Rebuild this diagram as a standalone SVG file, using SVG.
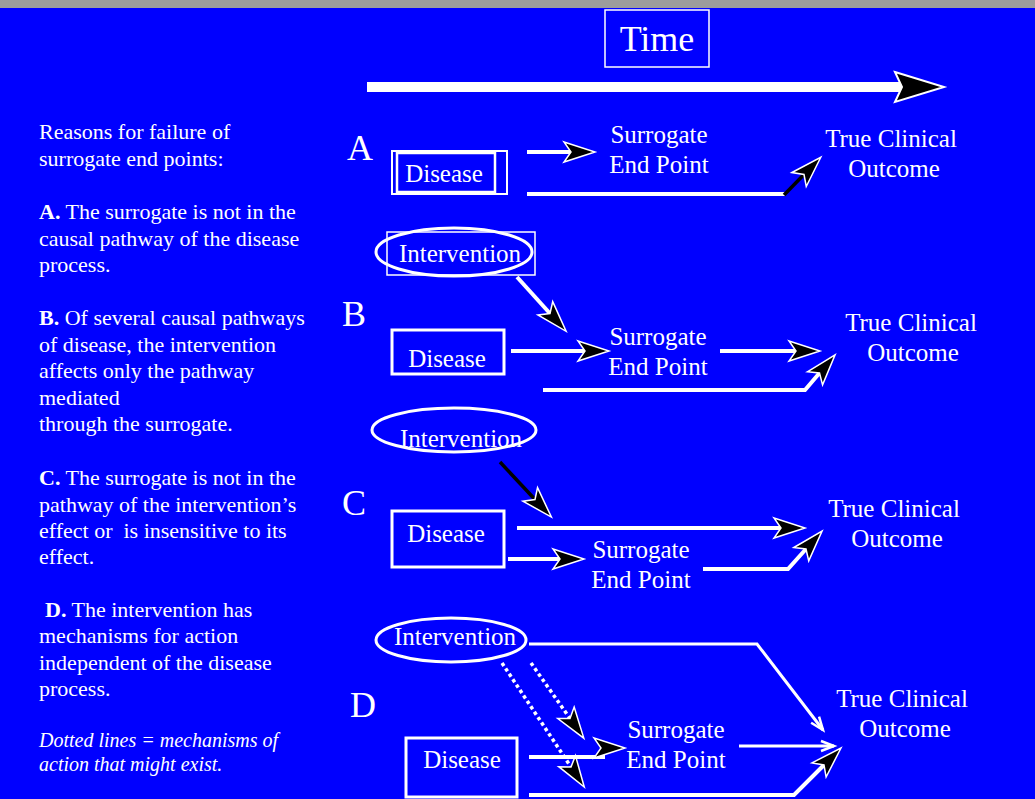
<svg xmlns="http://www.w3.org/2000/svg" width="1035" height="799" viewBox="0 0 1035 799">
<style>
text{font-family:"Liberation Serif","Times New Roman",serif;fill:#fff}
.t{font-size:25px;text-anchor:middle}
.big{font-size:36px}
.side{font-size:22px}
.it{font-size:20px;font-style:italic}
.box{fill:none;stroke:#fff;stroke-width:3}
.thin{fill:none;stroke:#fff;stroke-width:1.5}
.ell{fill:none;stroke:#fff;stroke-width:3}
.w{fill:none;stroke:#fff;stroke-width:4;marker-end:url(#ah)}
.wn{fill:none;stroke:#fff;stroke-width:4}
.k{fill:none;stroke:#000;stroke-width:3.5;marker-end:url(#ah)}
.dot{fill:none;stroke:#fff;stroke-width:3.5;stroke-dasharray:3.5 3;marker-end:url(#ah)}
.wo{fill:none;stroke:#fff;stroke-width:3;marker-end:url(#open)}
</style>
<defs>
<marker id="ah" markerUnits="userSpaceOnUse" viewBox="-2 -13 35 26" markerWidth="35" markerHeight="26" refX="7" refY="0" orient="auto" overflow="visible">
<path d="M0,-10 L31,0 L0,10 L7,0 Z" fill="#000" stroke="#fff" stroke-width="1.5"/>
</marker>
<marker id="ahBig" markerUnits="userSpaceOnUse" viewBox="-2 -17 53 34" markerWidth="53" markerHeight="34" refX="7" refY="0" orient="auto" overflow="visible">
<path d="M0,-15 L49,0 L0,15 L7,0 Z" fill="#000" stroke="#fff" stroke-width="2"/>
</marker>
<marker id="open" markerUnits="userSpaceOnUse" viewBox="-14 -7 16 14" markerWidth="16" markerHeight="14" refX="0" refY="0" orient="auto" overflow="visible">
<path d="M-13,-5 L0,0 L-13,5" fill="none" stroke="#fff" stroke-width="2.5"/>
</marker>
</defs>
<rect x="0" y="0" width="1035" height="799" fill="#0000FF"/>
<rect x="0" y="0" width="1035" height="8" fill="#9C9C9C"/>

<g id="legend">
<text class="side" x="39" y="139">Reasons for failure of</text>
<text class="side" x="39" y="166">surrogate end points:</text>
<text class="side" x="39" y="219"><tspan font-weight="bold">A.</tspan> The surrogate is not in the</text>
<text class="side" x="39" y="246">causal pathway of the disease</text>
<text class="side" x="39" y="272">process.</text>
<text class="side" x="39" y="325"><tspan font-weight="bold">B.</tspan> Of several causal pathways</text>
<text class="side" x="39" y="352">of disease, the intervention</text>
<text class="side" x="39" y="378">affects only the pathway</text>
<text class="side" x="39" y="405">mediated</text>
<text class="side" x="39" y="431">through the surrogate.</text>
<text class="side" x="39" y="485"><tspan font-weight="bold">C.</tspan> The surrogate is not in the</text>
<text class="side" x="39" y="512">pathway of the intervention’s</text>
<text class="side" x="39" y="538" style="white-space:pre">effect or  is insensitive to its</text>
<text class="side" x="39" y="564">effect.</text>
<text class="side" x="45" y="617"><tspan font-weight="bold">D.</tspan> The intervention has</text>
<text class="side" x="39" y="643">mechanisms for action</text>
<text class="side" x="39" y="670">independent of the disease</text>
<text class="side" x="39" y="696">process.</text>
<text class="it" x="39" y="747">Dotted lines = mechanisms of</text>
<text class="it" x="39" y="771">action that might exist.</text>
</g>

<g id="time">
<rect class="thin" x="605" y="10" width="104" height="57"/>
<text class="big" x="657" y="51" text-anchor="middle">Time</text>
</g>

<g id="labels">
<text class="big" x="347" y="160">A</text>
<text class="big" x="342" y="326">B</text>
<text class="big" x="342" y="515">C</text>
<text class="big" x="350" y="717">D</text>
</g>

<g id="A-disease">
<rect x="392" y="151" width="115" height="43" fill="none" stroke="#fff" stroke-width="2"/>
<rect x="397" y="153" width="98" height="39" fill="none" stroke="#fff" stroke-width="2.5"/>
<text class="t" x="444" y="182">Disease</text>
</g>
<g id="A-surrogate"><text class="t" x="659" y="143">Surrogate</text><text class="t" x="659" y="173">End Point</text></g>
<g id="A-outcome"><text class="t" x="891" y="147">True Clinical</text><text class="t" x="894" y="177">Outcome</text></g>

<g id="B-intervention">
<rect class="thin" x="387" y="232" width="148" height="43"/>
<ellipse class="ell" cx="454" cy="252" rx="78" ry="24"/>
<text class="t" x="460" y="262">Intervention</text>
</g>
<g id="B-disease">
<rect class="box" x="392" y="330" width="112" height="44"/>
<text class="t" x="447" y="367">Disease</text>
</g>
<g id="B-surrogate"><text class="t" x="658" y="345">Surrogate</text><text class="t" x="658" y="375">End Point</text></g>
<g id="B-outcome"><text class="t" x="911" y="331">True Clinical</text><text class="t" x="913" y="361">Outcome</text></g>

<g id="C-intervention">
<ellipse class="ell" cx="454" cy="430" rx="82" ry="22"/>
<text class="t" x="461" y="447">Intervention</text>
</g>
<g id="C-disease">
<rect class="box" x="392" y="511" width="112" height="56"/>
<text class="t" x="446" y="542">Disease</text>
</g>
<g id="C-surrogate"><text class="t" x="641" y="558">Surrogate</text><text class="t" x="641" y="588">End Point</text></g>
<g id="C-outcome"><text class="t" x="894" y="517">True Clinical</text><text class="t" x="897" y="547">Outcome</text></g>

<g id="D-intervention">
<ellipse class="ell" cx="451" cy="640" rx="75" ry="22"/>
<text class="t" x="455" y="645">Intervention</text>
</g>
<g id="D-disease">
<rect class="box" x="406" y="738" width="111" height="59"/>
<text class="t" x="462" y="768">Disease</text>
</g>
<g id="D-surrogate"><text class="t" x="676" y="738">Surrogate</text><text class="t" x="676" y="768">End Point</text></g>
<g id="D-outcome"><text class="t" x="902" y="707">True Clinical</text><text class="t" x="905" y="737">Outcome</text></g>

<g id="connectors">
<path d="M367,87 L902,87" fill="none" stroke="#fff" stroke-width="10" marker-end="url(#ahBig)"/>
<!-- A -->
<path class="w" d="M527,152 L571,152"/>
<path class="wn" d="M527,194 L785,194"/>
<path class="k" d="M784,195 L804,174.5"/>
<!-- B -->
<path class="w" d="M517,277 L550,313.5"/>
<path class="w" d="M511,351 L585,351"/>
<path class="w" d="M720,351 L796,351"/>
<path class="w" d="M543,390 L805,390 L819.5,373"/>
<!-- C -->
<path class="k" d="M500,462 L535,499.5"/>
<path class="w" d="M517,528 L781,528"/>
<path class="w" d="M508,559 L560,559"/>
<path class="w" d="M703,569 L788,569 L806,549"/>
<!-- D -->
<path class="wo" d="M529,644 L757,644 L823,730"/>
<path class="dot" d="M531,663 L570,718.5"/>
<path class="dot" d="M502,663 L571,767"/>
<path class="wn" d="M529,757 L605,757"/>
<path d="M594,748 L601,748" fill="none" stroke="none" marker-end="url(#ah)"/>
<path class="wo" d="M739,746 L834,746"/>
<path class="w" d="M529,795 L794,795 L824,765"/>
</g>
</svg>
